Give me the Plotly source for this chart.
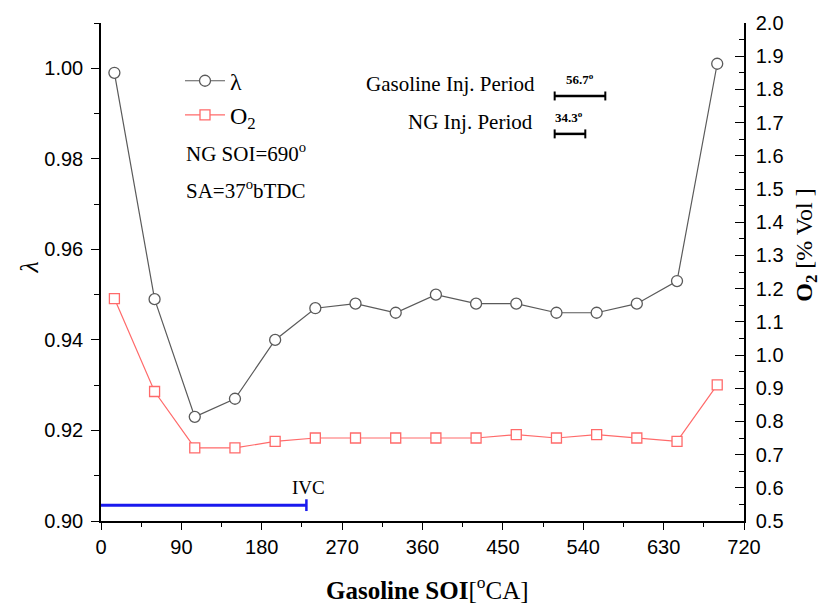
import plotly.graph_objects as go

# ---- data ----
soi_deg = [15, 60, 105, 150, 195, 240, 285, 330, 375, 420, 465, 510, 555, 600, 645, 690]
lambda_vals = [0.999, 0.949, 0.923, 0.927, 0.940, 0.947, 0.948, 0.946, 0.950, 0.948,
               0.948, 0.946, 0.946, 0.948, 0.953, 1.001]
o2_vals = [1.17, 0.89, 0.72, 0.72, 0.74, 0.75, 0.75, 0.75, 0.75, 0.75,
           0.76, 0.75, 0.76, 0.75, 0.74, 0.91]
x_ticks = [0, 90, 180, 270, 360, 450, 540, 630, 720]
ivc_angle = 230
gas_inj_period = 56.7
ng_inj_period = 34.3
inj_bar_start = 508

W, H = 824, 606
L, R, T, B = 101, 80, 18, 85
pw, ph = W - L - R, H - T - B


def px(xp):
    return (xp - L) / pw


def py(yp):
    return (H - B - yp) / ph


serif = "Liberation Serif"
sans = "Liberation Sans"

fig = go.Figure()
fig.add_trace(go.Scatter(
    x=soi_deg, y=lambda_vals, name="λ", mode="lines+markers",
    line=dict(color="#5a5a5a", width=1.2),
    marker=dict(symbol="circle", size=11, color="white",
                line=dict(color="#5a5a5a", width=1.3)),
))
fig.add_trace(go.Scatter(
    x=soi_deg, y=o2_vals, name="O<sub>2</sub>", mode="lines+markers", yaxis="y2",
    line=dict(color="#ff6a6a", width=1.2),
    marker=dict(symbol="square", size=10, color="white",
                line=dict(color="#ff6a6a", width=1.3)),
))

shapes = []
# IVC bar
ivc_y = 0.9035
shapes.append(dict(type="line", xref="x", yref="y", x0=0, x1=ivc_angle, y0=ivc_y, y1=ivc_y,
                   line=dict(color="#1a1aee", width=3)))
shapes.append(dict(type="line", xref="x", yref="y", x0=ivc_angle, x1=ivc_angle,
                   y0=ivc_y - 0.0013, y1=ivc_y + 0.0013, line=dict(color="#1a1aee", width=2.5)))
# injection period bars
for period, yp in [(gas_inj_period, 91.7), (ng_inj_period, 130)]:
    yc = py(yp)
    x1 = inj_bar_start + period
    shapes.append(dict(type="line", xref="x", yref="paper", x0=inj_bar_start, x1=x1, y0=yc, y1=yc,
                       line=dict(color="black", width=2.5)))
    for xe in (inj_bar_start, x1):
        shapes.append(dict(type="line", xref="x", yref="paper", x0=xe, x1=xe,
                           y0=yc - 0.009, y1=yc + 0.009, line=dict(color="black", width=2)))

ann = []
def add_text(text, xp, yp, size, xanchor="center", font=serif, angle=0, color="black"):
    ann.append(dict(text=text, x=px(xp), y=py(yp), xref="paper", yref="paper",
                    showarrow=False, xanchor=xanchor, yanchor="middle", textangle=angle,
                    font=dict(family=font, size=size, color=color)))

add_text("NG SOI=690<sup>o</sup>", 184, 149, 21, xanchor="left")
add_text("SA=37<sup>o</sup>bTDC", 184, 186, 21, xanchor="left")
add_text("Gasoline Inj. Period", 537, 80, 21, xanchor="right")
add_text("NG Inj. Period", 535, 118, 21, xanchor="right")
add_text("<b>%.1f<sup>o</sup></b>" % gas_inj_period, 580, 75, 13)
add_text("<b>%.1f<sup>o</sup></b>" % ng_inj_period, 569, 113, 13)
ann.append(dict(text="IVC", x=ivc_angle + 2, y=py(487), xref="x", yref="paper", showarrow=False,
                xanchor="center", yanchor="middle", font=dict(family=serif, size=19, color="black")))
add_text("<i>λ</i>", 30, 265, 26, angle=-90)
add_text("<b>O<sub>2</sub></b> [% Vol ]", 806, 242, 24, angle=-90)
add_text("<b>Gasoline SOI</b>[<sup>o</sup>CA]", 427, 589, 25)

fig.update_layout(
    width=W, height=H,
    margin=dict(l=L, r=R, t=T, b=B),
    paper_bgcolor="white", plot_bgcolor="white",
    showlegend=True,
    legend=dict(x=px(180), y=py(54), xanchor="left", yanchor="top",
                bgcolor="rgba(0,0,0,0)", font=dict(family=serif, size=24, color="black"),
                tracegroupgap=0, itemwidth=40),
    xaxis=dict(range=[0, 720], tickvals=x_ticks, showline=True, linecolor="black", linewidth=1.5,
               ticks="outside", ticklen=7, tickwidth=1.3, tickcolor="black",
               minor=dict(dtick=45, ticks="outside", ticklen=4, tickwidth=1.3, tickcolor="black"),
               showgrid=False, zeroline=False,
               tickfont=dict(family=sans, size=20, color="black")),
    yaxis=dict(range=[0.90, 1.01], dtick=0.02, tick0=0.90, tickformat=".2f",
               showline=True, linecolor="black", linewidth=1.5,
               ticks="outside", ticklen=8, tickwidth=1.3, tickcolor="black",
               minor=dict(dtick=0.01, ticks="outside", ticklen=5, tickwidth=1.3, tickcolor="black"),
               showgrid=False, zeroline=False, ticklabelstandoff=4,
               tickfont=dict(family=sans, size=20, color="black")),
    yaxis2=dict(range=[0.5, 2.0], dtick=0.1, tick0=0.5, tickformat=".1f", overlaying="y", side="right",
                showline=True, linecolor="black", linewidth=1.5,
                ticks="inside", ticklen=9, tickwidth=1.3, tickcolor="black",
                minor=dict(dtick=0.05, ticks="inside", ticklen=5, tickwidth=1.3, tickcolor="black"),
                showgrid=False, zeroline=False, ticklabelstandoff=6,
                tickfont=dict(family=sans, size=20, color="black")),
    shapes=shapes, annotations=ann,
)

fig.write_html("out.html")
